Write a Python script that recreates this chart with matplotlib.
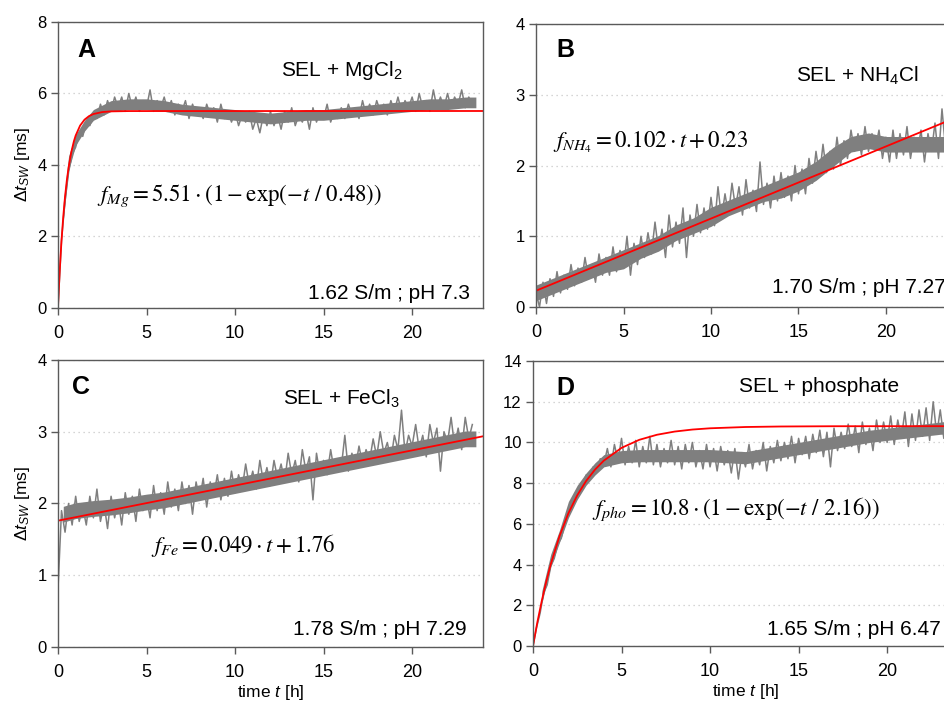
import matplotlib
matplotlib.use('Agg')
import matplotlib.pyplot as plt
import numpy as np

plt.rcParams['font.family'] = ['Liberation Sans', 'DejaVu Sans']
plt.rcParams['mathtext.fontset'] = 'custom'
plt.rcParams['mathtext.rm'] = 'Liberation Sans'
plt.rcParams['mathtext.it'] = 'Liberation Sans:italic'
plt.rcParams['mathtext.bf'] = 'Liberation Sans:bold'

# measured traces, one value every 0.2 h
step = 0.2
mg = [0.0, 1.9, 3.0, 3.8, 4.3, 4.5, 4.9, 4.8, 5.2, 5.1,
      5.4, 5.3, 5.7, 5.4, 5.8, 5.5, 5.9, 5.6, 5.9, 5.5,
      6.0, 5.6, 5.9, 5.5, 5.8, 5.6, 6.1, 5.5, 5.8, 5.6,
      5.9, 5.5, 5.8, 5.4, 5.7, 5.5, 5.8, 5.3, 5.7, 5.4,
      5.6, 5.3, 5.7, 5.4, 5.6, 5.2, 5.7, 5.3, 5.5, 5.2,
      5.5, 5.1, 5.4, 5.2, 5.5, 5.0, 5.3, 4.9, 5.4, 5.1,
      5.5, 5.1, 5.4, 5.0, 5.5, 5.2, 5.6, 5.1, 5.4, 5.2,
      5.5, 5.0, 5.6, 5.2, 5.5, 5.3, 5.7, 5.2, 5.5, 5.3,
      5.6, 5.3, 5.7, 5.4, 5.6, 5.3, 5.8, 5.4, 5.7, 5.4,
      5.8, 5.5, 5.7, 5.4, 5.8, 5.5, 5.9, 5.5, 5.8, 5.6,
      5.9, 5.5, 6.0, 5.6, 5.8, 5.5, 6.1, 5.6, 5.9, 5.6,
      6.0, 5.6, 5.9, 5.7, 6.1, 5.6, 5.9, 5.7]
nh4 = [0.2, 0.0, 0.35, 0.05, 0.4, 0.15, 0.5, 0.2, 0.45, 0.25,
       0.6, 0.3, 0.55, 0.35, 0.7, 0.4, 0.6, 0.35, 0.75, 0.45,
       0.7, 0.45, 0.85, 0.5, 0.8, 0.55, 1.0, 0.45, 0.9, 0.6,
       1.0, 0.7, 1.05, 0.75, 1.2, 0.8, 1.1, 0.7, 1.3, 0.85,
       1.2, 0.9, 1.4, 0.7, 1.3, 1.0, 1.45, 1.05, 1.4, 1.1,
       1.55, 1.15, 1.7, 1.25, 1.6, 1.3, 1.75, 1.4, 1.7, 1.3,
       1.8, 1.4, 1.65, 1.35, 2.05, 1.45, 1.75, 1.4, 1.85, 1.5,
       1.9, 1.55, 1.85, 1.5, 2.0, 1.6, 1.95, 1.6, 2.1, 1.75,
       2.2, 1.85, 2.3, 1.9, 2.2, 1.95, 2.4, 2.0, 2.35, 2.1,
       2.5, 2.2, 2.45, 2.15, 2.55, 2.2, 2.45, 2.25, 2.5, 2.1,
       2.4, 2.05, 2.5, 2.1, 2.45, 2.15, 2.55, 2.1, 2.4, 2.2,
       2.5, 2.05, 2.45, 2.2, 2.6, 2.1, 2.8, 2.25, 2.5, 2.2]
fe = [0.8, 1.9, 1.6, 2.0, 1.7, 2.1, 1.75, 1.95, 1.7, 2.1,
      1.8, 2.2, 1.75, 2.0, 1.65, 2.1, 1.8, 2.05, 1.7, 2.15,
      1.85, 2.1, 1.75, 2.2, 1.9, 2.1, 1.8, 2.25, 1.9, 2.15,
      1.85, 2.3, 1.95, 2.2, 1.9, 2.3, 2.0, 2.25, 1.85, 2.3,
      2.05, 2.35, 1.95, 2.3, 2.1, 2.4, 2.05, 2.35, 2.1, 2.45,
      2.15, 2.4, 2.2, 2.55, 2.25, 2.45, 2.2, 2.6, 2.3, 2.5,
      2.25, 2.6, 2.35, 2.55, 2.3, 2.7, 2.4, 2.6, 2.3, 2.75,
      2.45, 2.65, 2.05, 2.7, 2.4, 2.6, 2.4, 2.75, 2.45, 2.6,
      2.5, 2.95, 2.45, 2.7, 2.5, 2.8, 2.55, 2.75, 2.6, 2.9,
      2.65, 3.0, 2.7, 2.85, 2.6, 2.95, 2.75, 3.3, 2.7, 2.95,
      2.8, 3.1, 2.75, 2.95, 2.65, 3.1, 2.85, 3.05, 2.45, 3.0,
      2.85, 3.2, 2.8, 3.05, 2.75, 3.2, 2.9, 3.1]
pho = [0.0, 0.9, 1.6, 2.6, 3.0, 3.9, 4.3, 5.0, 5.3, 6.0,
       6.5, 7.0, 7.2, 7.8, 7.9, 8.4, 8.3, 8.8, 8.6, 9.2,
       8.9, 9.7, 8.8, 9.9, 9.1, 10.2, 8.9, 9.8, 9.0, 10.1,
       8.8, 9.8, 9.0, 10.3, 8.9, 9.9, 8.8, 9.7, 9.0, 10.1,
       8.9, 9.8, 8.7, 9.9, 9.0, 10.0, 8.8, 9.6, 8.7, 9.9,
       8.8, 9.7, 8.6, 9.8, 8.9, 9.6, 8.5, 9.7, 8.2, 9.5,
       8.8, 9.9, 8.7, 9.6, 8.9, 10.0, 8.6, 9.8, 9.0, 10.1,
       9.1, 10.0, 9.2, 10.3, 9.0, 10.2, 9.4, 10.3, 9.2, 10.4,
       9.5, 10.6, 9.3, 10.5, 8.8, 10.7, 9.6, 10.5, 9.7, 10.9,
       9.8, 10.8, 9.5, 11.0, 9.9, 10.7, 9.6, 11.1, 10.0, 11.0,
       10.0, 11.3, 9.9, 11.1, 10.2, 11.5, 9.8, 11.4, 10.1, 11.6,
       10.3, 11.7, 10.1, 12.0, 10.4, 11.6, 10.2, 12.2, 10.5, 11.8]

# dense core of the noise band (lower / upper edge)
mg_band_t = [0.3, 0.6, 1, 1.5, 2, 3, 4, 5, 6, 7, 8, 9, 10, 11, 12, 13, 14,
             15, 16, 17, 18, 19, 20, 21, 22, 23, 23.6]
mg_lo = [2.45, 3.85, 4.55, 4.95, 5.25, 5.5, 5.55, 5.55, 5.5, 5.4, 5.35,
         5.3, 5.25, 5.2, 5.15, 5.2, 5.25, 5.25, 5.3, 5.35, 5.4, 5.45, 5.5,
         5.55, 5.55, 5.6, 5.6]
mg_hi = [2.95, 4.25, 4.85, 5.25, 5.55, 5.8, 5.85, 5.85, 5.8, 5.7, 5.65,
         5.6, 5.55, 5.5, 5.45, 5.5, 5.55, 5.55, 5.6, 5.65, 5.7, 5.75, 5.8,
         5.85, 5.85, 5.9, 5.9]
nh4_band_t = [0, 1, 2, 3, 4, 5, 6, 7, 8, 9, 10, 11, 12, 13, 14, 15, 16, 17,
              18, 19, 20, 21, 22, 23, 24]
nh4_lo = [0.09, 0.19, 0.29, 0.39, 0.49, 0.54, 0.69, 0.79, 0.94, 1.04, 1.14,
          1.29, 1.39, 1.49, 1.54, 1.64, 1.79, 1.99, 2.19, 2.24, 2.19, 2.19,
          2.19, 2.19, 2.19]
nh4_hi = [0.31, 0.41, 0.51, 0.61, 0.71, 0.81, 0.91, 1.01, 1.16, 1.26, 1.41,
          1.51, 1.61, 1.71, 1.81, 1.91, 2.06, 2.26, 2.41, 2.46, 2.41, 2.41,
          2.41, 2.41, 2.41]
fe_band_t = [0.3, 1, 2, 3, 4, 5, 6, 7, 8, 9, 10, 11, 12, 13, 14, 15, 16, 17,
             18, 19, 20, 21, 22, 23, 23.6]
fe_lo = [1.74, 1.79, 1.82, 1.84, 1.87, 1.91, 1.94, 1.99, 2.04, 2.09, 2.14,
         2.19, 2.24, 2.29, 2.34, 2.39, 2.44, 2.49, 2.54, 2.59, 2.64, 2.69,
         2.74, 2.79, 2.79]
fe_hi = [1.96, 2.01, 2.04, 2.06, 2.09, 2.13, 2.16, 2.21, 2.26, 2.31, 2.36,
         2.41, 2.46, 2.51, 2.56, 2.61, 2.66, 2.71, 2.76, 2.81, 2.86, 2.91,
         2.96, 3.01, 3.01]
pho_band_t = [0.5, 1, 1.5, 2, 2.5, 3, 3.5, 4, 5, 6, 7, 8, 9, 10, 11, 12,
              13, 14, 15, 16, 17, 18, 19, 20, 21, 22, 23, 24]
pho_lo = [2.1, 3.9, 5.1, 6.3, 7.2, 7.9, 8.4, 8.8, 9.0, 9.05, 9.05, 9.05,
          9.05, 9.05, 9.0, 8.95, 9.1, 9.25, 9.4, 9.55, 9.7, 9.85, 10.0, 10.1,
          10.2, 10.3, 10.4, 10.45]
pho_hi = [2.7, 4.5, 5.7, 7.1, 7.9, 8.5, 9.0, 9.4, 9.6, 9.65, 9.65, 9.65,
          9.65, 9.65, 9.6, 9.55, 9.7, 9.85, 10.0, 10.15, 10.3, 10.45, 10.6,
          10.7, 10.8, 10.9, 11.0, 11.1]

# fitted curves, read at a few times
mg_fit_t = [0, 0.05, 0.1, 0.15, 0.2, 0.3, 0.4, 0.5, 0.6, 0.75, 0.9, 1.0,
            1.25, 1.5, 1.75, 2.0, 2.5, 3.0, 4.0, 24]
mg_fit = [0, 0.545, 1.036, 1.479, 1.878, 2.561, 3.115, 3.566, 3.931, 4.355,
          4.665, 4.824, 5.102, 5.268, 5.366, 5.425, 5.480, 5.499, 5.508, 5.51]
nh4_fit_t = [0, 24.5]
nh4_fit = [0.23, 2.729]
fe_fit_t = [0, 24]
fe_fit = [1.76, 2.936]
pho_fit_t = [0, 0.25, 0.5, 0.75, 1, 1.5, 2, 2.5, 3, 3.5, 4, 5, 6, 7, 8, 9,
             10, 12, 14, 17, 24.5]
pho_fit = [0, 1.180, 2.232, 3.168, 4.003, 5.406, 6.521, 7.405, 8.107, 8.663,
           9.105, 9.733, 10.128, 10.377, 10.534, 10.633, 10.695, 10.758,
           10.783, 10.796, 10.8]

letters = ['A', 'B', 'C', 'D']
titles = ['SEL + MgCl$_2$', 'SEL + NH$_4$Cl', 'SEL + FeCl$_3$', 'SEL + phosphate']
equations = [r'$f_{Mg} =5.51\cdot(1-\mathrm{exp}(-t\ /\ 0.48))$',
             r'$f_{NH_4} =0.102\cdot t+0.23$',
             r'$f_{Fe} =0.049\cdot t+1.76$',
             r'$f_{pho} =10.8\cdot(1-\mathrm{exp}(-t\ /\ 2.16))$']
conds = ['1.62 S/m ; pH 7.3', '1.70 S/m ; pH 7.27', '1.78 S/m ; pH 7.29',
         '1.65 S/m ; pH 6.47']

traces = [mg, nh4, fe, pho]
bands = [(mg_band_t, mg_lo, mg_hi), (nh4_band_t, nh4_lo, nh4_hi),
         (fe_band_t, fe_lo, fe_hi), (pho_band_t, pho_lo, pho_hi)]
fits = [(mg_fit_t, mg_fit), (nh4_fit_t, nh4_fit), (fe_fit_t, fe_fit),
        (pho_fit_t, pho_fit)]
ymax = [8, 4, 4, 14]
ystep = [2, 1, 1, 2]

pos = [[0.0614, 0.5625, 0.4502, 0.4063],
       [0.5678, 0.5639, 0.4449, 0.4020],
       [0.0614, 0.0810, 0.4502, 0.4077],
       [0.5646, 0.0824, 0.4502, 0.4048]]
letter_xy = [(0.045, 0.878), (0.048, 0.883), (0.033, 0.882), (0.054, 0.881)]
title_xy = [(0.525, 0.811), (0.619, 0.795), (0.53, 0.843), (0.485, 0.891)]
eq_xy = [(0.092, 0.374), (0.041, 0.562), (0.22, 0.331), (0.14, 0.46)]
cond_xy = [(0.588, 0.031), (0.562, 0.049), (0.553, 0.042), (0.551, 0.039)]

spine_col = '#5a5a5a'
gray = '#7f7f7f'

fig = plt.figure(figsize=(9.44, 7.04), dpi=100)
for i in range(4):
    ax = fig.add_axes(pos[i])
    t = np.arange(len(traces[i])) * step
    ax.fill_between(bands[i][0], bands[i][1], bands[i][2], color=gray, lw=0)
    ax.plot(t, traces[i], color=gray, lw=1.1)
    ax.plot(fits[i][0], fits[i][1], color='#ff0000', lw=1.3)
    ax.set_xlim(0, 24)
    ax.set_ylim(0, ymax[i])
    ax.set_xticks([0, 5, 10, 15, 20])
    ax.set_yticks(np.arange(0, ymax[i] + 0.1, ystep[i]))
    ax.grid(axis='y', color='#c8c8c8', linestyle=(0, (1, 3)), lw=0.9)
    ax.set_axisbelow(True)
    for s in ax.spines.values():
        s.set_color(spine_col)
        s.set_linewidth(1.0)
    ax.tick_params(direction='out', length=5, width=1.0, color=spine_col)
    ax.tick_params(axis='x', labelsize=13, pad=7)
    ax.tick_params(axis='y', labelsize=12, pad=3)

    ax.text(letter_xy[i][0], letter_xy[i][1], letters[i], transform=ax.transAxes,
            fontsize=18, fontweight='bold', ha='left', va='baseline')
    ax.text(title_xy[i][0], title_xy[i][1], titles[i], transform=ax.transAxes,
            fontsize=15, ha='left', va='baseline')
    ax.text(eq_xy[i][0], eq_xy[i][1], equations[i], transform=ax.transAxes,
            fontsize=16.5, ha='left', va='baseline', math_fontfamily='stix')
    ax.text(cond_xy[i][0], cond_xy[i][1], conds[i], transform=ax.transAxes,
            fontsize=15, ha='left', va='baseline')

    if i % 2 == 0:
        ax.set_ylabel(r'$\Delta t_{SW}$ [ms]', fontsize=12.5, labelpad=4)
    if i >= 2:
        ax.set_xlabel('time $t$ [h]', fontsize=12.5, labelpad=2)

plt.savefig('out.png', dpi=100)
